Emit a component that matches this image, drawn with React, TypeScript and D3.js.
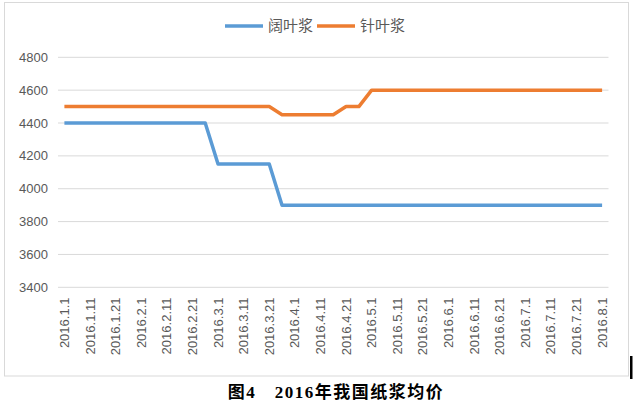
import React from "react";
import * as d3 from "d3";

const months = [1, 2, 3, 4, 5, 6, 7];
const days = [1, 6, 11, 16, 21, 26];
const categories: string[] = [
  ...months.flatMap((m) => days.map((d) => `2016.${m}.${d}`)),
  "2016.8.1",
];
const hardwood: number[] = [
  4400, 4400, 4400, 4400, 4400, 4400, 4400, 4400, 4400, 4400, 4400, 4400,
  4150, 4150, 4150, 4150, 4150,
  3900, 3900, 3900, 3900, 3900, 3900, 3900, 3900, 3900, 3900, 3900, 3900,
  3900, 3900, 3900, 3900, 3900, 3900, 3900, 3900, 3900, 3900, 3900, 3900,
  3900, 3900,
];
const softwood: number[] = [
  4500, 4500, 4500, 4500, 4500, 4500, 4500, 4500, 4500, 4500, 4500, 4500,
  4500, 4500, 4500, 4500, 4500,
  4450, 4450, 4450, 4450, 4450,
  4500, 4500,
  4600, 4600, 4600, 4600, 4600, 4600, 4600, 4600, 4600, 4600, 4600, 4600,
  4600, 4600, 4600, 4600, 4600, 4600, 4600,
];
const yTicks = [3400, 3600, 3800, 4000, 4200, 4400, 4600, 4800];
const seriesNames = ["阔叶浆", "针叶浆"];
const colors = ["#5b9bd5", "#ed7d31"];
const title = "图4　2016年我国纸浆均价";

export default function App() {
  const W = 639, H = 404;
  const left = 58, right = 608.5, top = 57.3, bottom = 287.3;
  const x = d3.scaleBand<string>().domain(categories).range([left, right]);
  const y = d3.scaleLinear().domain([3400, 4800]).range([bottom, top]);
  const cx = (i: number) => (x(categories[i]) as number) + x.bandwidth() / 2;
  const line = d3
    .line<number>()
    .x((_, i) => cx(i))
    .y((v) => y(v));
  const labelFont = "'Liberation Sans', Arial, sans-serif";
  return (
    <svg
      width={W}
      height={H}
      style={{ position: "absolute", left: 0, top: 0, background: "#fff" }}
    >
      <rect x={4.5} y={2.5} width={624} height={373.5} fill="#fff" stroke="#d9d9d9" strokeWidth={1} />
      {yTicks.map((t) => (
        <g key={t}>
          <line x1={left} x2={right} y1={y(t)} y2={y(t)} stroke="#d9d9d9" strokeWidth={1} />
          <text
            x={48}
            y={y(t)}
            dy="0.35em"
            textAnchor="end"
            fontFamily={labelFont}
            fontSize={13}
            fill="#595959"
          >
            {t}
          </text>
        </g>
      ))}
      {categories.map((c, i) =>
        i % 2 === 0 ? (
          <text
            key={c}
            transform={`translate(${cx(i) + 4.5},${297.5}) rotate(-90)`}
            textAnchor="end"
            fontFamily={labelFont}
            fontSize={13}
            fill="#595959"
          >
            {c}
          </text>
        ) : null
      )}
      {[hardwood, softwood].map((s, k) => (
        <path
          key={k}
          d={line(s) as string}
          fill="none"
          stroke={colors[k]}
          strokeWidth={3.5}
          strokeLinejoin="round"
        />
      ))}
      {seriesNames.map((n, k) => {
        const lx = k === 0 ? 225 : 317;
        return (
          <g key={n}>
            <line x1={lx} x2={lx + 38} y1={26} y2={26} stroke={colors[k]} strokeWidth={3.5} />
            <text
              x={lx + 43}
              y={26}
              dy="0.35em"
              fontFamily="'Noto Sans CJK SC', sans-serif"
              fontSize={15}
              fill="#595959"
            >
              {n}
            </text>
          </g>
        );
      })}
      <text
        x={336}
        y={398}
        textAnchor="middle"
        fontFamily="'Liberation Serif', 'Noto Sans CJK SC', serif"
        fontWeight="bold"
        fontSize={17}
        letterSpacing={1.5}
        fill="#000"
      >
        {title}
      </text>
      <rect x={630} y={356} width={2.5} height={23} fill="#000" />
    </svg>
  );
}
